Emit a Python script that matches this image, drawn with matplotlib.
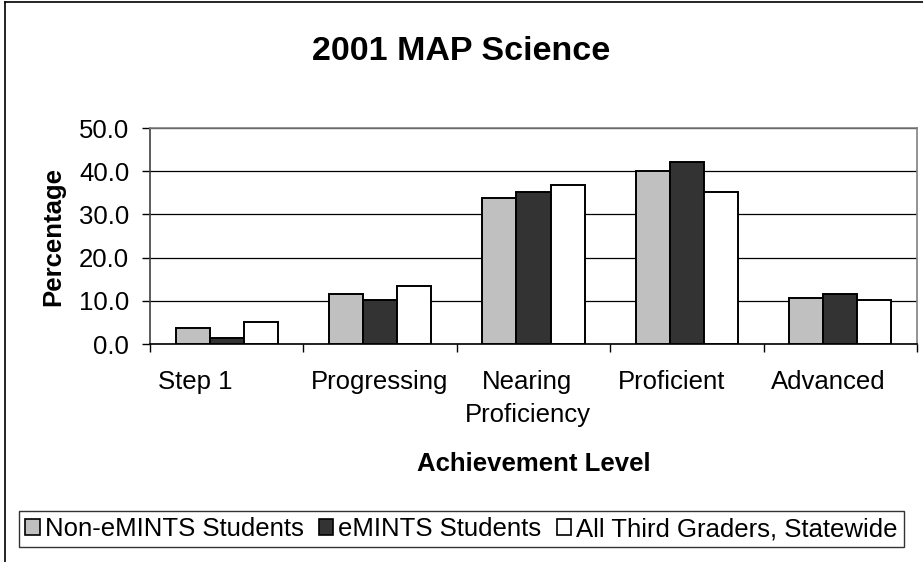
import numpy as np
import matplotlib
matplotlib.use('Agg')
from matplotlib import pyplot as plt
from matplotlib.transforms import ScaledTranslation
from matplotlib.patches import Patch
from matplotlib.lines import Line2D

plt.rcParams['font.family'] = ['Liberation Sans', 'DejaVu Sans']

levels = ['Step 1', 'Progressing', 'Nearing\nProficiency', 'Proficient', 'Advanced']
series = ['Non-eMINTS Students', 'eMINTS Students', 'All Third Graders, Statewide']
non_emints = [3.7, 11.6, 33.9, 40.0, 10.6]
emints = [1.4, 10.2, 35.3, 42.2, 11.6]
statewide = [5.2, 13.5, 36.7, 35.3, 10.2]
yticks = [0, 10, 20, 30, 40, 50]

colors = ['#C0C0C0', '#333333', '#FFFFFF']

fig = plt.figure(figsize=(9.23, 5.62), dpi=100)
ax = fig.add_axes([150 / 923, 1 - 344 / 562, (917 - 150) / 923, (344 - 128) / 562])

x = np.arange(len(levels))
w = 0.667 / 3
for k, vals in enumerate([non_emints, emints, statewide]):
    ax.bar(x + (k - 1) * w, vals, width=w, color=colors[k], edgecolor='black',
           linewidth=1.4, zorder=3, label=series[k])

ax.set_xlim(-0.5, len(levels) - 0.5)
ax.set_ylim(0, 50)
ax.set_yticks(yticks)
ax.set_yticklabels(['%.1f' % v for v in yticks])
ax.yaxis.grid(True, color='black', linewidth=0.9, zorder=0)
ax.set_axisbelow(True)

ax.spines['top'].set_color('#808080')
ax.spines['right'].set_color('#808080')
ax.spines['left'].set_color('#404040')
ax.spines['bottom'].set_color('black')
for s in ax.spines.values():
    s.set_linewidth(1.2)

ax.tick_params(axis='y', length=6, width=1, direction='out', pad=9, labelsize=18.5)
# category labels: left-aligned inside each category, ticks at boundaries
ax.set_xticks(x)
ax.set_xticklabels(levels, fontsize=18.5, ha='left', multialignment='center',
                   linespacing=1.45)
ax.tick_params(axis='x', which='major', length=0, pad=19)
ax.set_xticks(np.arange(len(levels) + 1) - 0.5, minor=True)
ax.tick_params(axis='x', which='minor', length=6, width=1, direction='out')
shift = ScaledTranslation(-69 / 100, 0, fig.dpi_scale_trans)
for lab in ax.get_xticklabels():
    lab.set_transform(lab.get_transform() + shift)

ax.set_ylabel('Percentage', fontsize=18.5, fontweight='bold', labelpad=10)
ax.set_xlabel('Achievement Level', fontsize=18.5, fontweight='bold', labelpad=18)
fig.text(0.5, 1 - 51 / 562, '2001 MAP Science', ha='center', va='center',
         fontsize=24.5, fontweight='bold')

handles = [Patch(facecolor=colors[k], edgecolor='black', linewidth=1.2, label=series[k])
           for k in range(3)]
leg = fig.legend(handles=handles, loc='center', bbox_to_anchor=(0.5, 1 - 529 / 562),
                 ncol=3, fontsize=18.5, frameon=True, fancybox=False, edgecolor='black',
                 handlelength=0.55, handleheight=0.55, handletextpad=0.2, columnspacing=0.6,
                 borderpad=0.25, borderaxespad=0)
leg.get_frame().set_linewidth(1.0)

# outer chart frame (left and top edges visible)
fig.add_artist(Line2D([4.5 / 923, 4.5 / 923], [0, 1 - 1.5 / 562], color='black',
                      linewidth=1.2, transform=fig.transFigure))
fig.add_artist(Line2D([4.5 / 923, 1], [1 - 1.5 / 562, 1 - 1.5 / 562], color='black',
                      linewidth=1.2, transform=fig.transFigure))

fig.savefig('out.png', dpi=100)
